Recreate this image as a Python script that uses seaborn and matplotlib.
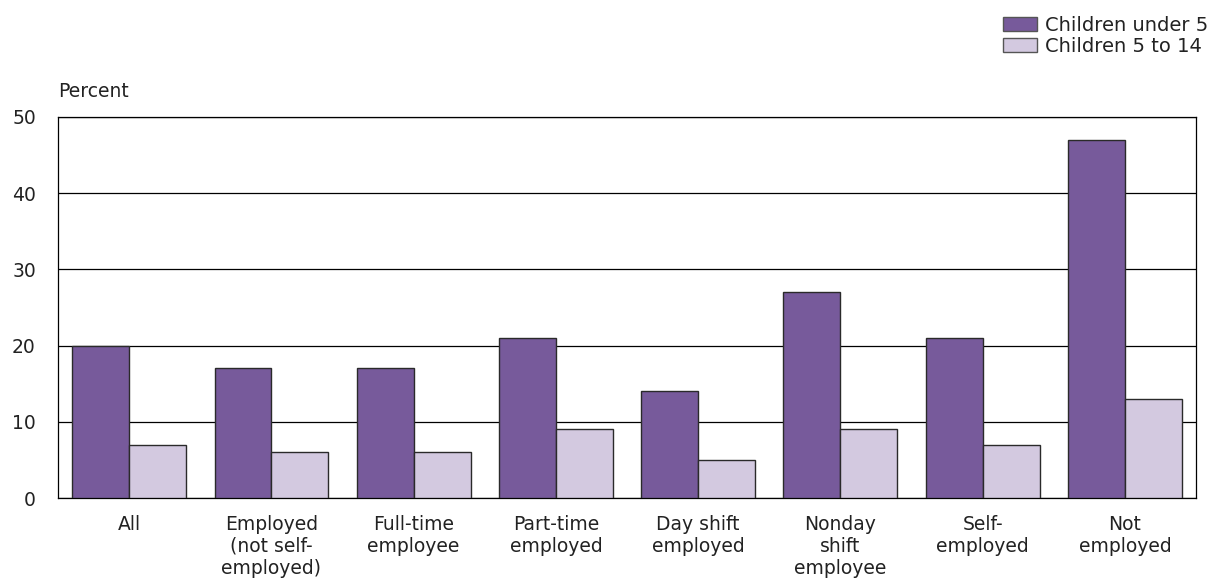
import matplotlib
matplotlib.use("Agg")
import matplotlib.pyplot as plt
import seaborn as sns
import pandas as pd
from matplotlib.patches import Patch

categories = ["All", "Employed\n(not self-\nemployed)", "Full-time\nemployee", "Part-time\nemployed",
              "Day shift\nemployed", "Nonday\nshift\nemployee", "Self-\nemployed", "Not\nemployed"]
under5 = [20, 17, 17, 21, 14, 27, 21, 47]
age5to14 = [7, 6, 6, 9, 5, 9, 7, 13]
series = ["Children under 5", "Children 5 to 14"]
yticks = [0, 10, 20, 30, 40, 50]

df = pd.DataFrame({
    "cat": categories * 2,
    "val": under5 + age5to14,
    "grp": [series[0]] * len(categories) + [series[1]] * len(categories),
})

sns.set_style("white")
plt.rcParams["font.family"] = ["DejaVu Sans"]

fig = plt.figure(figsize=(12.12, 5.87), dpi=100)
ax = fig.add_axes([0.0479, 0.1516, 0.9389, 0.6491])

palette = {series[0]: "#775a9b", series[1]: "#d3c9e0"}
sns.barplot(data=df, x="cat", y="val", hue="grp", palette=palette, order=categories,
            hue_order=series, width=0.8, edgecolor="#2a2a2a", linewidth=1.0,
            saturation=1, ax=ax, legend=False, zorder=3)

ax.set_ylim(0, 50)
ax.set_yticks(yticks)
ax.set_xlim(-0.5, len(categories) - 0.5)
ax.yaxis.grid(True, color="black", linewidth=0.9, zorder=0)
ax.set_axisbelow(True)
for s in ax.spines.values():
    s.set_visible(True)
    s.set_color("black")
    s.set_linewidth(0.9)
ax.tick_params(axis="both", length=0, labelsize=13.5, colors="#222222")
ax.tick_params(axis="y", pad=16)
ax.tick_params(axis="x", pad=12)
for lbl in ax.get_xticklabels():
    lbl.set_linespacing(1.2)
    lbl.set_ha("center")
ax.set_xlabel("")
ax.set_ylabel("")
fig.text(0.0479, 1 - 97 / 587, "Percent", fontsize=13.5, color="#222222", ha="left", va="baseline")

handles = [Patch(facecolor=palette[s], edgecolor="#555555", linewidth=1.0) for s in series]
fig.legend(handles, series, loc="upper right", bbox_to_anchor=(1.003, 0.986), frameon=False,
           fontsize=14, handlelength=1.75, handleheight=0.77, handletextpad=0.4,
           labelspacing=0.1, borderaxespad=0.2, borderpad=0.2, labelcolor="#222222")

fig.savefig("out.png", dpi=100)
